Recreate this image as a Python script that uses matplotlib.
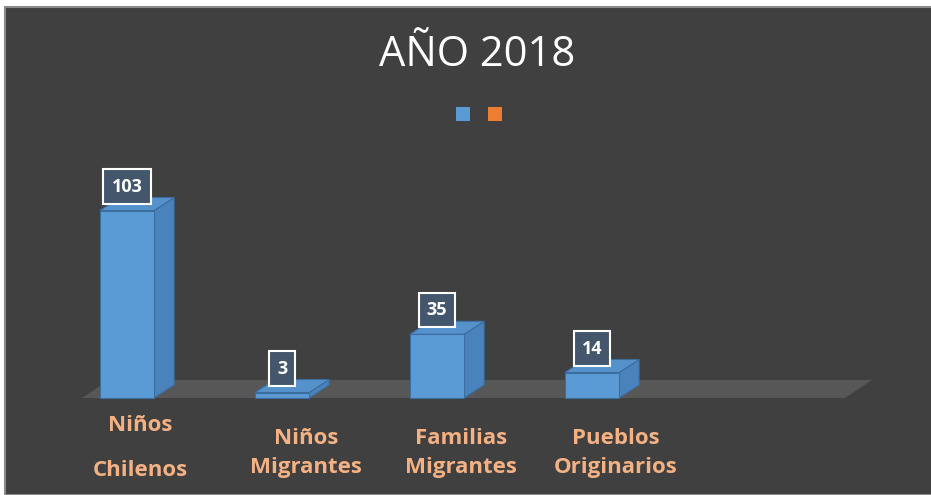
import matplotlib
matplotlib.use("Agg")
import matplotlib.pyplot as plt
from matplotlib.patches import Polygon, Rectangle, Patch
import numpy as np

# ---- data ----
title = "AÑO 2018"
categories = ["Niños\n\nChilenos", "Niños\nMigrantes", "Familias\nMigrantes", "Pueblos\nOriginarios"]
values = [103, 3, 35, 14]

BG = "#404040"
FRONT = "#5b9bd5"
SIDE = "#4a82bb"
TOP = "#5592cc"
EDGE = "#3b6e9e"
LABEL = "#f4b183"

W, H = 931, 495
fig = plt.figure(figsize=(W / 100, H / 100), dpi=100, facecolor="white")

# dark panel with grey frame
fig.patches.append(Rectangle((5 / W, 0), 1, (H - 7) / H, transform=fig.transFigure,
                             facecolor=BG, edgecolor="#8a8a8a", lw=1.5, zorder=-10))

# axes geometry in pixels
L, R, B, T = 60, 900, 400, 150
ax = fig.add_axes([L / W, (H - B) / H, (R - L) / W, (B - T) / H])
ax.set_facecolor("none")
x0px, step = 127, 155       # pixel of category 0 centre, category spacing
y0px, ppu = 398, 1.82       # pixel of value 0, pixels per unit
ax.set_xlim((L - x0px) / step, (R - x0px) / step)
ax.set_ylim((y0px - B) / ppu, (y0px - T) / ppu)
ax.axis("off")

dxd = 20 / step   # bar depth in data units
dyd = 13 / ppu

# floor
fx0, fx1 = (82 - x0px) / step, (845 - x0px) / step
fdx, fdy = 27 / step, 18 / ppu
ax.add_patch(Polygon([(fx0, 0), (fx1, 0), (fx1 + fdx, fdy), (fx0 + fdx, fdy)],
                     closed=True, facecolor="#575757", edgecolor="none", zorder=1))

xs = np.arange(len(values))
bw = 0.35
bars = ax.bar(xs, values, width=bw, color=FRONT, edgecolor=EDGE, linewidth=0.8, zorder=5)
for b, v in zip(bars, values):
    xl = b.get_x()
    xr = xl + b.get_width()
    ax.add_patch(Polygon([(xr, 0), (xr + dxd, dyd), (xr + dxd, v + dyd), (xr, v)],
                         closed=True, facecolor=SIDE, edgecolor=EDGE, lw=0.8, zorder=4))
    ax.add_patch(Polygon([(xl, v), (xr, v), (xr + dxd, v + dyd), (xl + dxd, v + dyd)],
                         closed=True, facecolor=TOP, edgecolor=EDGE, lw=0.8, zorder=4))
    ax.annotate(str(v), (b.get_x() + b.get_width() / 2, v), xytext=(0, 24),
                textcoords="offset pixels", ha="center", va="center",
                fontsize=13, fontweight="bold", color="white", family="Open Sans",
                bbox=dict(boxstyle="square,pad=0.45", facecolor="#44566b",
                          edgecolor="white", lw=1.5), zorder=10)

# category labels
for i, c in enumerate(categories):
    xoff = 13 if i == 0 else 24
    yoff = -50 if i == 0 else -55
    ax.annotate(c, (xs[i], 0), xytext=(xoff, yoff),
                textcoords="offset pixels", ha="center", va="center",
                fontsize=16, fontweight="bold", color=LABEL, family="Open Sans",
                linespacing=1.08 if i == 0 else 1.5, annotation_clip=False)

fig.text(477 / W, 1 - 55 / H, title, ha="center", va="center", color="white",
         fontsize=30, family="Open Sans")

leg = fig.legend(handles=[Patch(facecolor="#5b9bd5"), Patch(facecolor="#ed7d31")],
                 labels=["", ""], ncol=2, loc="center", bbox_to_anchor=(479 / W, 1 - 115 / H),
                 frameon=False, handlelength=0.75, handleheight=0.75,
                 handletextpad=0.0, columnspacing=0.9, fontsize=14)

fig.savefig("out.png", dpi=100, facecolor="white")
